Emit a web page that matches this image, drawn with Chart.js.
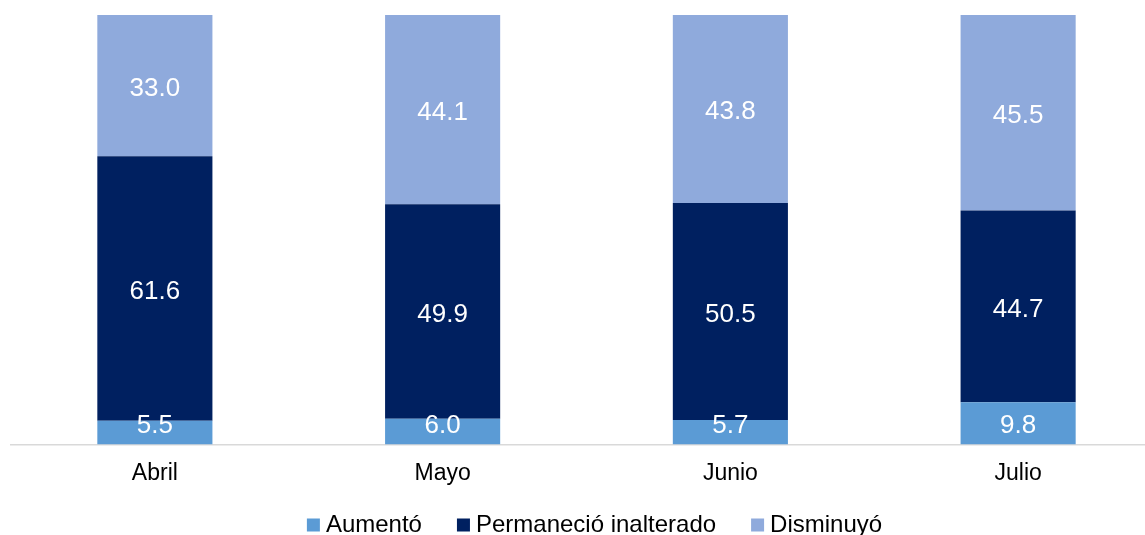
<!DOCTYPE html>
<html>
<head>
<meta charset="utf-8">
<script src="https://cdn.jsdelivr.net/npm/chart.js@4"></script>
<style>
  html, body { margin: 0; padding: 0; background: #fff; overflow: hidden; }
  #wrap { width: 1162px; height: 535px; }
</style>
</head>
<body>
<div id="wrap"><canvas id="myChart"></canvas></div>
<script>
const meses = ['Abril', 'Mayo', 'Junio', 'Julio'];
const aumento = [5.5, 6.0, 5.7, 9.8];
const permanecio = [61.6, 49.9, 50.5, 44.7];
const disminuyo = [33.0, 44.1, 43.8, 45.5];

const fuente = '"Liberation Sans", Arial, sans-serif';

// etiquetas blancas centradas en cada segmento (sin pasar bajo el eje)
const etiquetas = {
  id: 'etiquetas',
  afterDatasetsDraw(chart) {
    const c = chart.ctx;
    c.save();
    c.fillStyle = '#fff';
    c.font = '26px ' + fuente;
    c.textAlign = 'center';
    c.textBaseline = 'middle';
    chart.data.datasets.forEach((ds, i) => {
      chart.getDatasetMeta(i).data.forEach((bar, j) => {
        const top = Math.max(bar.y, chart.chartArea.top);
        const y = Math.min((top + bar.base) / 2, bar.base - 22);
        c.fillText(ds.data[j].toFixed(1), bar.x, y + 3);
      });
    });
    c.restore();
  }
};

// leyenda dibujada a mano para controlar los espacios
const leyenda = {
  id: 'leyenda',
  afterDraw(chart) {
    const c = chart.ctx;
    const caja = 13, hueco = 6, sep = 35, y = 525;
    c.save();
    c.font = '24px ' + fuente;
    c.textBaseline = 'middle';
    const items = chart.data.datasets.map(ds => ({
      texto: ds.label, color: ds.backgroundColor, ancho: c.measureText(ds.label).width
    }));
    let total = 0;
    items.forEach((it, i) => { total += caja + hueco + it.ancho + (i ? sep : 0); });
    let x = (chart.chartArea.left + chart.chartArea.right) / 2 - total / 2 + 8;
    items.forEach(it => {
      c.fillStyle = it.color;
      c.fillRect(x, y - 6.5, caja, caja);
      c.fillStyle = '#000';
      c.fillText(it.texto, x + caja + hueco, y);
      x += caja + hueco + it.ancho + sep;
    });
    c.restore();
  }
};

const ctx = document.getElementById('myChart');

new Chart(ctx, {
  type: 'bar',
  data: {
    labels: meses,
    datasets: [{
      label: 'Aumentó',
      data: aumento,
      backgroundColor: '#5b9bd5'
    }, {
      label: 'Permaneció inalterado',
      data: permanecio,
      backgroundColor: '#002060'
    }, {
      label: 'Disminuyó',
      data: disminuyo,
      backgroundColor: '#8faadc'
    }]
  },
  options: {
    responsive: true,
    maintainAspectRatio: false,
    animation: false,
    layout: { padding: { left: 11, right: 0, top: 15, bottom: 41 } },
    datasets: { bar: { categoryPercentage: 1, barPercentage: 0.4 } },
    scales: {
      x: {
        stacked: true,
        grid: { display: false },
        border: { color: '#d9d9d9', width: 1.5 },
        ticks: {
          color: '#000',
          font: { family: fuente, size: 23 },
          padding: 7
        }
      },
      y: {
        stacked: true,
        display: false,
        min: 0,
        max: 100
      }
    },
    plugins: {
      tooltip: { enabled: false },
      legend: { display: false }
    }
  },
  plugins: [etiquetas, leyenda]
});
</script>
</body>
</html>
